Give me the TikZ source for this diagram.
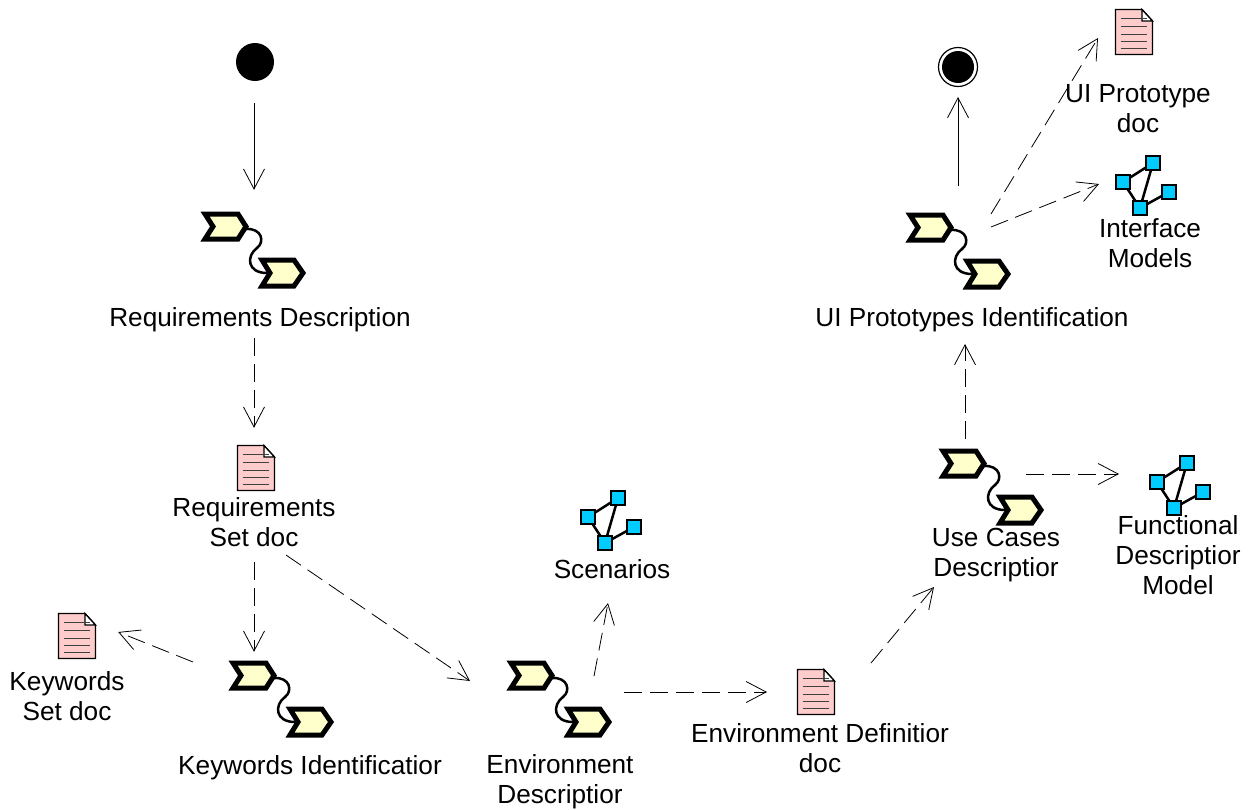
\documentclass[tikz,border=0pt]{standalone}
\usepackage{fontspec}
\setmainfont{Liberation Sans}
\usetikzlibrary{arrows.meta}

\definecolor{taskfill}{RGB}{255,255,204}
\definecolor{docfill}{RGB}{255,204,204}
\definecolor{netfill}{RGB}{0,204,255}

\tikzset{
  label/.style={font=\fontsize{26.2}{30}\selectfont,align=center,inner sep=0pt},
  taskbox/.style={minimum width=102pt,minimum height=80pt,inner sep=0pt},
  docbox/.style={minimum width=38pt,minimum height=46pt,inner sep=0pt},
  netbox/.style={minimum width=62pt,minimum height=60pt,inner sep=0pt},
  chevron/.style={draw=black,fill=taskfill,line width=5pt,line join=miter},
  flow/.style={-{Straight Barb[length=20pt,width=21pt]},line width=0.8pt},
  dep/.style={flow,dash pattern=on 18pt off 8pt}
}

% task icon: two chevrons joined by a wavy line
\newcommand{\taskicon}[3]{
  \node[taskbox] (#1) at (#2,#3) {};
  \begin{scope}[shift={(#2,#3)}]
    \draw[line width=2.5pt] (-8,-21) .. controls (8,-22) and (11,-8) .. (3,-2)
      .. controls (-8,6) and (-7,23) .. (13,23);
    \draw[chevron] (-49,-36) -- (-16,-36) -- (-8,-23.5) -- (-16,-11) -- (-49,-11) -- (-41,-23.5) -- cycle;
    \draw[chevron] (8,10) -- (40,10) -- (49,23) -- (40,36) -- (8,36) -- (16,23) -- cycle;
  \end{scope}
}
% document icon
\newcommand{\docicon}[3]{
  \node[docbox] (#1) at (#2,#3) {};
  \begin{scope}[shift={(#2,#3)}]
    \draw[fill=docfill,line width=1.3pt] (-18.5,-22.5) -- (8,-22.5) -- (18.5,-11) -- (18.5,22.5) -- (-18.5,22.5) -- cycle;
    \draw[fill=white,line width=1.3pt] (8,-22.5) -- (8,-11) -- (18.5,-11) -- cycle;
    \foreach \y in {-14,-6,2,9,16}
      \draw[line width=1pt,draw=black!75] (-13,\y) -- (13,\y);
  \end{scope}
}
% network icon
\newcommand{\neticon}[3]{
  \node[netbox] (#1) at (#2,#3) {};
  \begin{scope}[shift={(#2,#3)}]
    \draw[line width=2.5pt] (-23,-3) -- (7,-22) -- (-6,23) -- cycle;
    \draw[line width=2.5pt] (-6,23) -- (23,7);
    \foreach \x/\y in {7/-22,-23/-3,-6/23,23/7}
      \draw[fill=netfill,line width=2.4pt] (\x-7,\y-7) rectangle (\x+7,\y+7);
  \end{scope}
}

\begin{document}
\begin{tikzpicture}[x=1pt,y=-1pt]
  \useasboundingbox (0,0) rectangle (1260,809);

  \node[circle,fill=black,minimum size=38pt,inner sep=0pt] (start) at (255,62) {};
  \node[circle,draw=black,line width=1.2pt,minimum size=39pt,inner sep=0pt] (end) at (958,67) {};
  \node[circle,fill=black,minimum size=32pt,inner sep=0pt] (endmark) at (end) {};

  \taskicon{reqtask}{254}{250}
  \taskicon{keytask}{282}{699}
  \taskicon{envtask}{560}{699}
  \taskicon{usetask}{992}{487}
  \taskicon{uitask}{959}{251}

  \docicon{reqdoc}{256}{468}
  \docicon{keydoc}{77}{636}
  \docicon{envdoc}{816}{692}
  \docicon{uidoc}{1134}{32}

  \neticon{scenet}{611}{520}
  \neticon{funnet}{1180}{485}
  \neticon{uinet}{1146}{185}

  \node[label] (reqtext) at (260,320) {Requirements Description};
  \node[label] (reqset) at (254,522) {Requirements\\Set doc};
  \node[label] (keyset) at (67,696) {Keywords\\Set doc};
  \node[label] (keytext) at (310,768) {Keywords Identificatior};
  \node[label] (envtext) at (560,782) {Environment\\Descriptior};
  \node[label] (envset) at (820,748) {Environment Definitior\\doc};
  \node[label] (scetext) at (612,569) {Scenarios};
  \node[label] (usetext) at (996,555) {Use Cases\\Descriptior};
  \node[label] (funtext) at (1178,555) {Functional\\Descriptior\\Model};
  \node[label] (uinettext) at (1150,243) {Interface\\Models};
  \node[label] (uidoctext) at (1138,109) {UI Prototype\\doc};
  \node[label] (uitext) at (972,320) {UI Prototypes Identification};

  \draw[flow] ([xshift=-1pt,yshift=-41pt]start.center) -- ([yshift=20pt]reqtask.north);
  \draw[dep] ([xshift=-6pt,yshift=-18pt]reqtext.center) -- ([xshift=-2pt,yshift=17pt]reqdoc.north);
  \draw[dep] ([yshift=-40pt]reqset.center) -- ([xshift=-28pt,yshift=7pt]keytask.north);
  \draw[dep] ([xshift=-89pt,yshift=37pt]keytask.center) -- ([xshift=22pt,yshift=4pt]keydoc.east);

  % requirements set to the environment
  \draw[dep] ([xshift=32pt,yshift=-33pt]reqset.center) -- ([xshift=-90pt,yshift=18pt]envtask.center);
  \draw[dep] ([xshift=34pt,yshift=23pt]envtask.center) -- ([xshift=-4pt,yshift=-34pt]scetext.center);
  \draw[dep] ([xshift=64pt,yshift=7pt]envtask.center) -- ([xshift=-49pt]envdoc.center);
  \draw[dep] ([xshift=55pt,yshift=29pt]envdoc.center) -- ([xshift=-62pt,yshift=-32pt]usetext.center);

  % use cases
  \draw[dep] ([xshift=34pt,yshift=13pt]usetask.center) -- ([xshift=-61pt,yshift=11pt]funnet.center);
  \draw[dep] ([xshift=-27pt,yshift=48pt]usetask.center) -- ([xshift=-7pt,yshift=-24pt]uitext.center);

  \draw[flow] ([xshift=-1pt,yshift=65pt]uitask.center) -- ([yshift=-30pt]end.center);
  \draw[dep] ([xshift=32pt,yshift=37pt]uitask.center) -- ([xshift=-36pt,yshift=-6pt]uidoc.center);
  \draw[dep] ([xshift=32pt,yshift=24pt]uitask.center) -- ([xshift=-47pt,yshift=1pt]uinet.center);
\end{tikzpicture}
\end{document}
